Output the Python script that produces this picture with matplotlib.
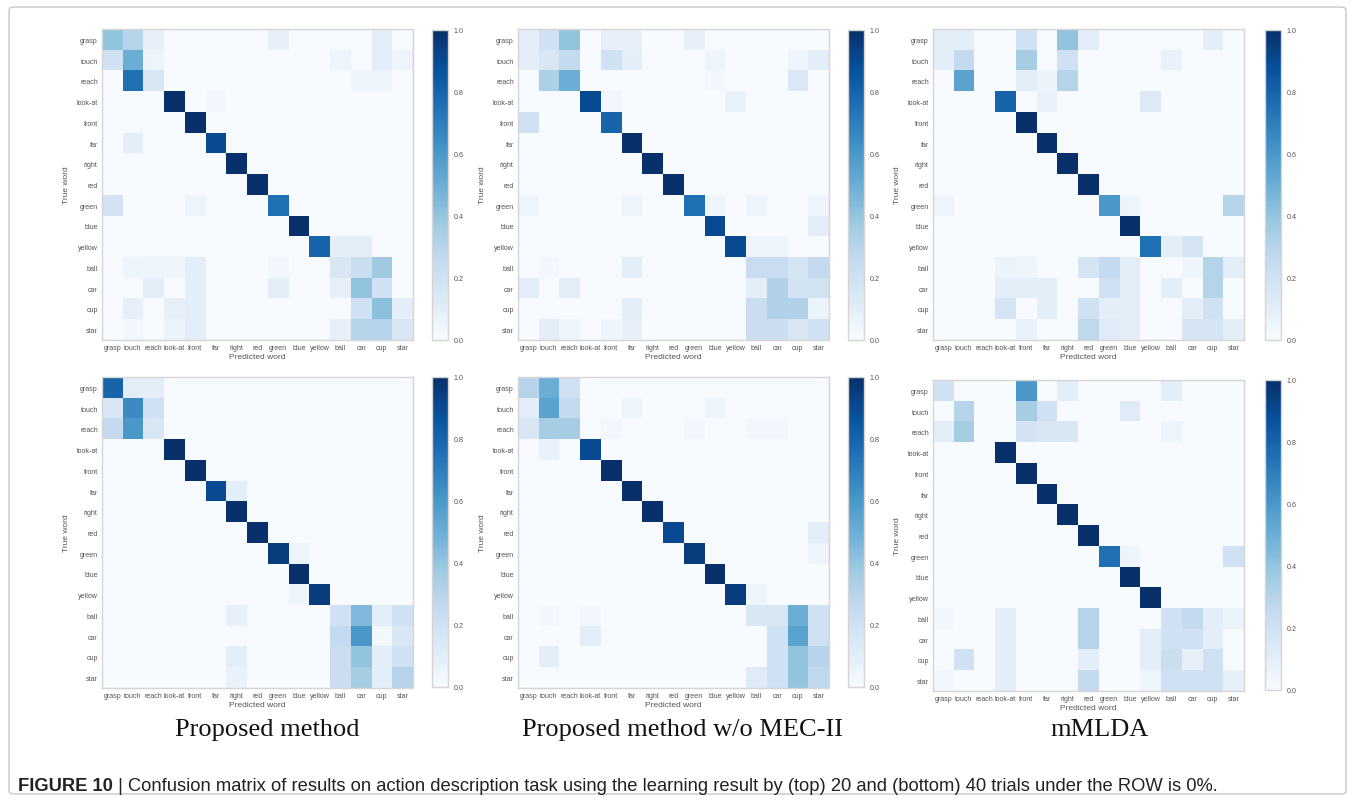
import numpy as np
import matplotlib
matplotlib.use("Agg")
import matplotlib.pyplot as plt
from matplotlib.patches import FancyBboxPatch

labels = ["grasp", "touch", "reach", "look-at", "front", "far", "right", "red",
          "green", "blue", "yellow", "ball", "car", "cup", "star"]

# rows = true word, cols = predicted word (sparse: {col: value})
top_proposed = [
    {"grasp": .40, "touch": .30, "reach": .08, "green": .08, "cup": .10},
    {"grasp": .20, "touch": .50, "reach": .05, "ball": .05, "cup": .10, "star": .05},
    {"touch": .75, "reach": .15, "car": .05, "cup": .05},
    {"look-at": 1.0, "far": .03},
    {"front": 1.0},
    {"touch": .10, "far": .90},
    {"right": 1.0},
    {"red": 1.0},
    {"grasp": .18, "front": .05, "green": .75},
    {"blue": 1.0},
    {"yellow": .80, "ball": .10, "car": .10},
    {"touch": .05, "reach": .04, "look-at": .04, "front": .10, "green": .03, "ball": .15, "car": .22, "cup": .37},
    {"reach": .10, "front": .10, "green": .10, "ball": .08, "car": .40, "cup": .20},
    {"touch": .08, "look-at": .08, "front": .10, "car": .20, "cup": .42, "star": .10},
    {"touch": .03, "look-at": .06, "front": .10, "ball": .08, "car": .30, "cup": .30, "star": .15},
]
top_no_mec = [
    {"grasp": .10, "touch": .20, "reach": .40, "front": .08, "far": .08, "green": .08},
    {"grasp": .10, "touch": .15, "reach": .25, "front": .20, "far": .10, "blue": .05, "cup": .05, "star": .10},
    {"touch": .33, "reach": .50, "blue": .03, "cup": .14},
    {"look-at": .90, "front": .03, "yellow": .07},
    {"grasp": .20, "front": .80},
    {"far": 1.0},
    {"right": 1.0},
    {"red": 1.0},
    {"grasp": .05, "far": .05, "green": .75, "blue": .05, "ball": .05, "star": .05},
    {"blue": .90, "star": .10},
    {"yellow": .90, "ball": .05, "car": .05},
    {"touch": .03, "far": .10, "ball": .23, "car": .23, "cup": .17, "star": .25},
    {"grasp": .10, "reach": .10, "ball": .10, "car": .32, "cup": .19, "star": .19},
    {"far": .10, "ball": .22, "car": .32, "cup": .32, "star": .06},
    {"touch": .10, "reach": .05, "front": .04, "far": .08, "ball": .22, "car": .22, "cup": .15, "star": .20},
]
top_mmlda = [
    {"grasp": .10, "touch": .10, "front": .20, "right": .40, "red": .10, "cup": .10},
    {"grasp": .10, "touch": .25, "front": .35, "right": .20, "ball": .07},
    {"touch": .55, "front": .10, "far": .06, "right": .30},
    {"look-at": .80, "far": .07, "yellow": .13},
    {"front": 1.0},
    {"far": 1.0},
    {"right": 1.0},
    {"red": 1.0},
    {"grasp": .05, "green": .60, "blue": .05, "star": .30},
    {"blue": 1.0},
    {"yellow": .75, "ball": .10, "car": .17},
    {"look-at": .06, "front": .04, "red": .17, "green": .25, "blue": .10, "car": .04, "cup": .30, "star": .10},
    {"look-at": .10, "front": .10, "far": .10, "green": .20, "blue": .10, "ball": .10, "cup": .30},
    {"look-at": .17, "far": .10, "red": .20, "green": .10, "blue": .10, "car": .10, "cup": .20},
    {"front": .07, "red": .27, "green": .12, "blue": .10, "car": .17, "cup": .17, "star": .10},
]
bottom_proposed = [
    {"grasp": .80, "touch": .10, "reach": .10},
    {"grasp": .15, "touch": .65, "reach": .20},
    {"grasp": .25, "touch": .60, "reach": .15},
    {"look-at": 1.0},
    {"front": 1.0},
    {"far": .90, "right": .10},
    {"right": 1.0},
    {"red": 1.0},
    {"green": .95, "blue": .05},
    {"blue": 1.0},
    {"blue": .05, "yellow": .95},
    {"right": .08, "ball": .20, "car": .45, "cup": .10, "star": .20},
    {"ball": .25, "car": .60, "cup": .02, "star": .15},
    {"right": .10, "ball": .22, "car": .40, "cup": .10, "star": .20},
    {"right": .07, "ball": .22, "car": .35, "cup": .10, "star": .30},
]
bottom_no_mec = [
    {"grasp": .30, "touch": .50, "reach": .20},
    {"grasp": .10, "touch": .55, "reach": .25, "far": .05, "blue": .05},
    {"grasp": .15, "touch": .35, "reach": .35, "front": .03, "green": .03, "ball": .03, "car": .03},
    {"touch": .07, "look-at": .90},
    {"front": 1.0},
    {"far": 1.0},
    {"right": 1.0},
    {"red": .90, "star": .10},
    {"green": .95, "star": .05},
    {"blue": 1.0},
    {"yellow": .95, "ball": .05},
    {"touch": .03, "look-at": .03, "ball": .15, "car": .15, "cup": .50, "star": .20},
    {"look-at": .10, "car": .20, "cup": .55, "star": .20},
    {"touch": .10, "car": .20, "cup": .40, "star": .30},
    {"ball": .12, "car": .20, "cup": .40, "star": .27},
]
bottom_mmlda = [
    {"grasp": .20, "front": .60, "right": .10, "ball": .10},
    {"touch": .30, "front": .35, "far": .20, "blue": .12},
    {"grasp": .10, "touch": .35, "front": .18, "far": .15, "right": .15, "ball": .05},
    {"look-at": 1.0},
    {"front": 1.0},
    {"far": 1.0},
    {"right": 1.0},
    {"red": 1.0},
    {"green": .75, "blue": .05, "star": .20},
    {"blue": 1.0},
    {"yellow": 1.0},
    {"grasp": .03, "look-at": .10, "red": .30, "ball": .20, "car": .25, "cup": .10, "star": .06},
    {"look-at": .10, "red": .30, "yellow": .10, "ball": .20, "car": .20, "cup": .10},
    {"touch": .20, "look-at": .10, "red": .10, "yellow": .10, "ball": .22, "car": .08, "cup": .20},
    {"grasp": .03, "look-at": .10, "red": .25, "yellow": .04, "ball": .20, "car": .20, "cup": .20, "star": .08},
]

captions = ["Proposed method", "Proposed method w/o MEC-II", "mMLDA"]
figure_caption_bold = "FIGURE 10"
figure_caption_rest = (" | Confusion matrix of results on action description task using the learning "
                       "result by (top) 20 and (bottom) 40 trials under the ROW is 0%.")


def to_matrix(rows):
    m = np.zeros((len(labels), len(labels)))
    for i, r in enumerate(rows):
        for k, v in r.items():
            m[i, labels.index(k)] = v
    return m


W, H = 1355, 803
fig = plt.figure(figsize=(W / 100, H / 100), dpi=100)
fig.patch.set_facecolor("white")


def rect(x0, y0, w, h):
    return [x0 / W, 1 - (y0 + h) / H, w / W, h / H]


GRAY = "#555555"
SPINE = "#d5d5d5"
SMALL = dict(fontsize=5.1, family="Liberation Sans", color=GRAY)

panels = [
    (top_proposed, 102, 30, 432, 31),
    (top_no_mec, 518, 30, 848, 31),
    (top_mmlda, 933, 30, 1265, 31),
    (bottom_proposed, 102, 378, 432, 378),
    (bottom_no_mec, 518, 378, 848, 378),
    (bottom_mmlda, 933, 381, 1265, 381),
]

for rows, ax_x, ax_y, cb_x, cb_y in panels:
    ax = fig.add_axes(rect(ax_x, ax_y, 311, 311))
    m = to_matrix(rows)
    im = ax.imshow(m, cmap="Blues", vmin=0, vmax=1, interpolation="nearest", aspect="auto")
    ax.set_xticks(range(len(labels)))
    ax.set_yticks(range(len(labels)))
    ax.set_xticklabels(labels, **SMALL)
    ax.set_yticklabels(labels, **SMALL)
    ax.tick_params(length=0, pad=3)
    ax.set_xlabel("Predicted word", fontsize=6, family="Liberation Sans", color=GRAY, labelpad=1)
    ax.set_ylabel("True word", fontsize=6, family="Liberation Sans", color=GRAY, labelpad=5)
    for s in ax.spines.values():
        s.set_color(SPINE)
        s.set_linewidth(1.0)
    cax = fig.add_axes(rect(cb_x, cb_y, 16, 310))
    cb = fig.colorbar(im, cax=cax, ticks=[0, 0.2, 0.4, 0.6, 0.8, 1.0])
    cb.ax.tick_params(length=0, pad=4)
    cb.ax.set_yticklabels(["0.0", "0.2", "0.4", "0.6", "0.8", "1.0"], **SMALL)
    cb.outline.set_edgecolor(SPINE)
    cb.outline.set_linewidth(1.0)

for cx, txt in zip([267, 683, 1100], captions):
    fig.text(cx / W, 1 - 730 / H, txt, ha="center", va="center",
             fontsize=19, family="Liberation Serif", color="#111111")

t = fig.text(18 / W, 1 - 787 / H, figure_caption_bold, ha="left", va="center",
             fontsize=13.2, family="Liberation Sans", weight="bold", color="#222222")
fig.canvas.draw()
bb = t.get_window_extent()
fig.text(bb.x1 / W, 1 - 787 / H, figure_caption_rest, ha="left", va="center",
         fontsize=13.2, family="Liberation Sans", color="#222222")

frame = FancyBboxPatch((9 / W, 8 / H), 1337 / W, 787 / H, boxstyle="round,pad=0,rounding_size=0.004",
                       transform=fig.transFigure, fill=False, edgecolor="#c8c8c8", linewidth=1.0)
fig.patches.append(frame)

fig.savefig("out.png", dpi=100)
